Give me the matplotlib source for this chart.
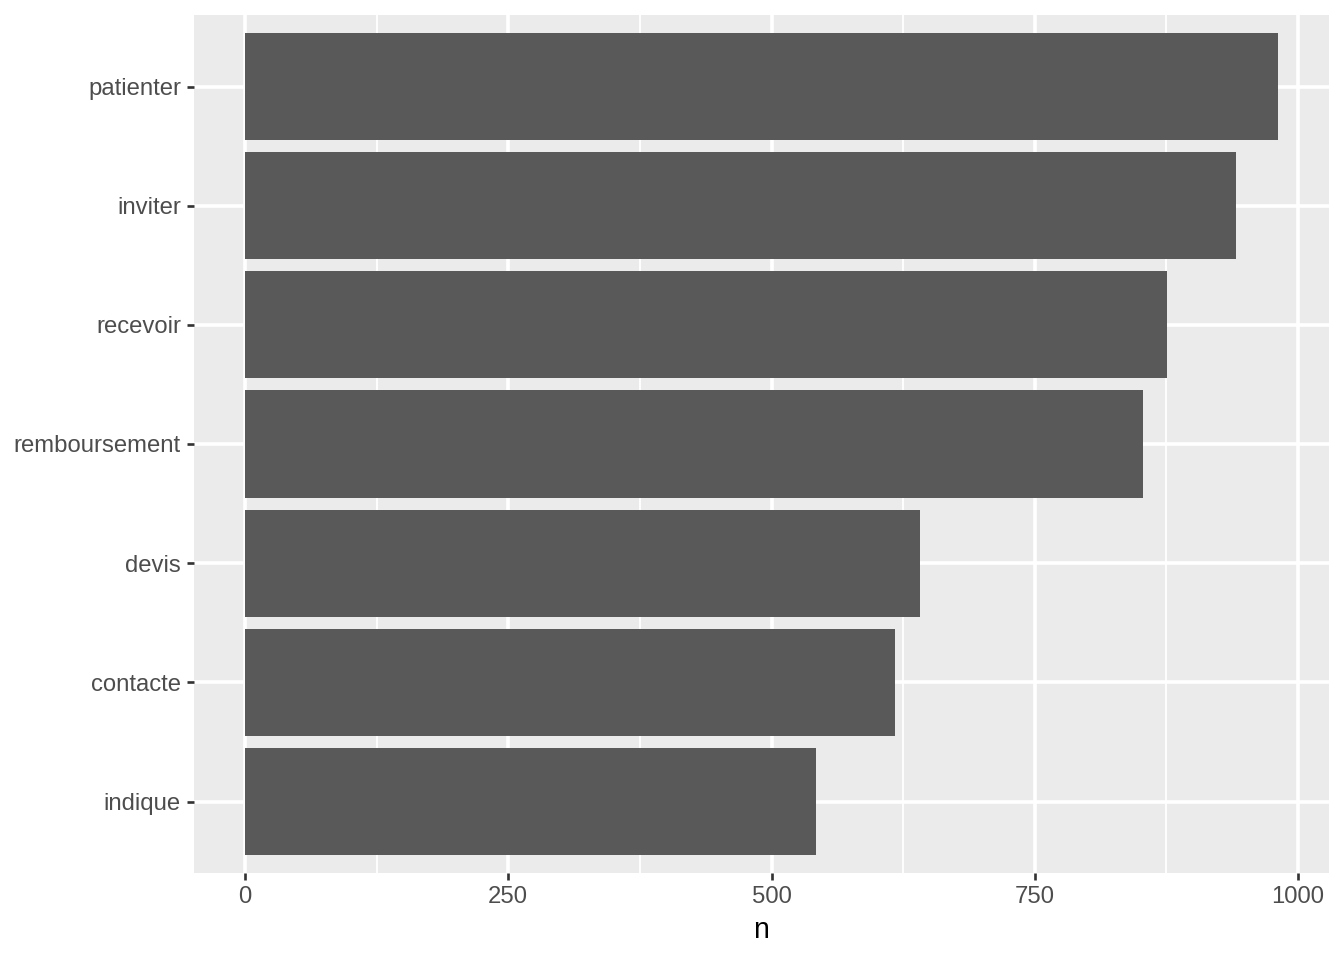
import matplotlib
matplotlib.use("Agg")
import matplotlib.pyplot as plt
import numpy as np

categories = ["patienter", "inviter", "recevoir", "remboursement", "devis", "contacte", "indique"]
values = [981, 941, 876, 853, 641, 617, 542]
xticks = [0, 250, 500, 750, 1000]
xtick_labels = ["0", "250", "500", "750", "1000"]
minor_ticks = [125, 375, 625, 875]

plt.rcParams["font.family"] = ["Liberation Sans", "DejaVu Sans"]
fig = plt.figure(figsize=(7, 5), dpi=192)
ax = fig.add_axes([194/1344, 1 - 873/960, (1329-194)/1344, (873-15)/960])
ax.set_facecolor("#EBEBEB")

n = len(categories)
ypos = np.arange(n, 0, -1)  # top category first
ax.barh(ypos, values, height=0.9, color="#595959", zorder=3, linewidth=0)

ax.set_xlim(-48.4, 1029.4)
ax.set_ylim(0.4, n + 0.6)

pt = 72.27/25.4
major_lw = 0.5*pt*0.75*1.3
for x in xticks:
    ax.axvline(x, color="white", lw=major_lw, zorder=1)
for x in minor_ticks:
    ax.axvline(x, color="white", lw=major_lw/2, zorder=1)
for y in ypos:
    ax.axhline(y, color="white", lw=major_lw, zorder=1)

ax.set_xticks(xticks)
ax.set_xticklabels(xtick_labels)
ax.set_yticks(ypos)
ax.set_yticklabels(categories)
ax.tick_params(axis="both", length=2.75*0.75*1.3, width=1.0, color="#333333",
               labelcolor="#4D4D4D", labelsize=8.8*0.75*1.3*1.045, pad=2.2)
for s in ax.spines.values():
    s.set_visible(False)
ax.set_xlabel("n", fontsize=11*0.75*1.3, color="black", labelpad=3)

fig.savefig("out.png", dpi=192)
